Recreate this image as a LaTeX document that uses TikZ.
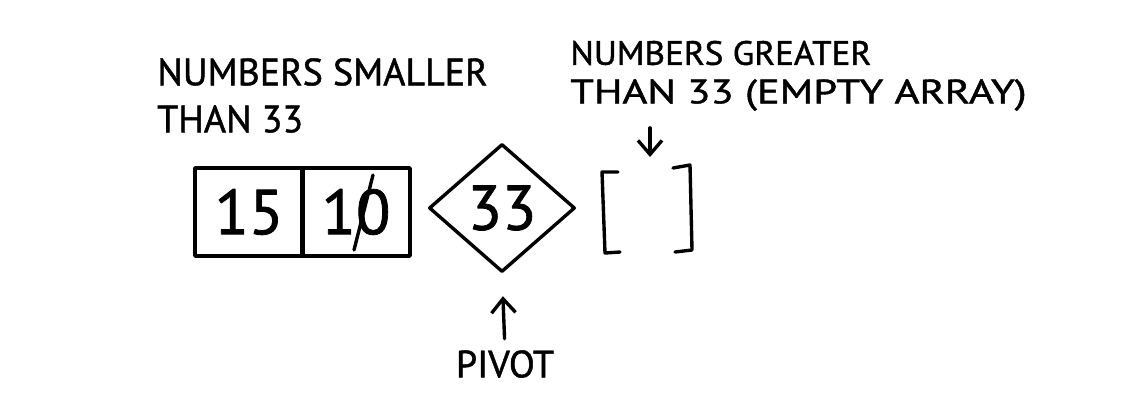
\documentclass[tikz,border=0pt]{standalone}
\usepackage{fontspec}
\setmainfont{PT Sans}[FakeBold=1.2]
\usetikzlibrary{shapes.geometric,arrows.meta}
\begin{document}
\begin{tikzpicture}[x=0.025cm,y=-0.025cm,
  ink/.style={line width=2.4pt,line join=round,line cap=round},
  lbl/.style={font=\fontsize{27}{30}\selectfont,inner sep=0pt,anchor=west},
  num/.style={font=\fontsize{45}{48}\selectfont},
  cell/.style={ink,draw,minimum width=2.7cm,minimum height=2.2cm,inner sep=0pt},
  arr/.style={ink,-{Straight Barb[length=3.5mm,width=6mm]}}]
\useasboundingbox[fill=white] (0,0) rectangle (1141,416);
% labels
\node[lbl] (s1) at (157,72) {NUMBERS SMALLER};
\node[lbl] (s2) at (157,119) {THAN 33};
\node[lbl,font=\fontsize{24}{27}\selectfont] (g1) at (570,53) {\scalebox{1.04}[1]{NUMBERS GREATER}};
\node[lbl,font=\fontsize{24}{27}\selectfont] (g2) at (570,95) {\scalebox{1.26}[1]{THAN 33 (EMPTY ARRAY)}};
% array of smaller numbers
\node[cell,num] (c1) at (249,212) {15};
\node[cell,num] (c2) at (356,212) {10};
\draw[ink] (373,175) -- (354,250);
% pivot
\node[ink,draw,diamond,aspect=1.15,minimum width=3.65cm,minimum height=3.2cm,inner sep=0pt,num] (piv) at (502,208) {33};
% empty array
\coordinate (etop) at (650,157);
\node[inner sep=0pt,minimum width=2.3cm,minimum height=2.1cm] (empty) at (647,210) {};
\draw[ink] (618,172) -- (602,172) -- (605,253) -- (620,252);
\draw[ink] (673,168) -- (690,165) -- (692,250) -- (675,252);
% pivot label
\node[lbl,anchor=center] (pv) at (505,364) {PIVOT};
% connectors
\draw[arr,shorten <=12pt] (g2.south -| etop) -- (etop);
\draw[arr,shorten <=8pt,shorten >=16pt] (pv.north) -- (piv.south);
\end{tikzpicture}
\end{document}
